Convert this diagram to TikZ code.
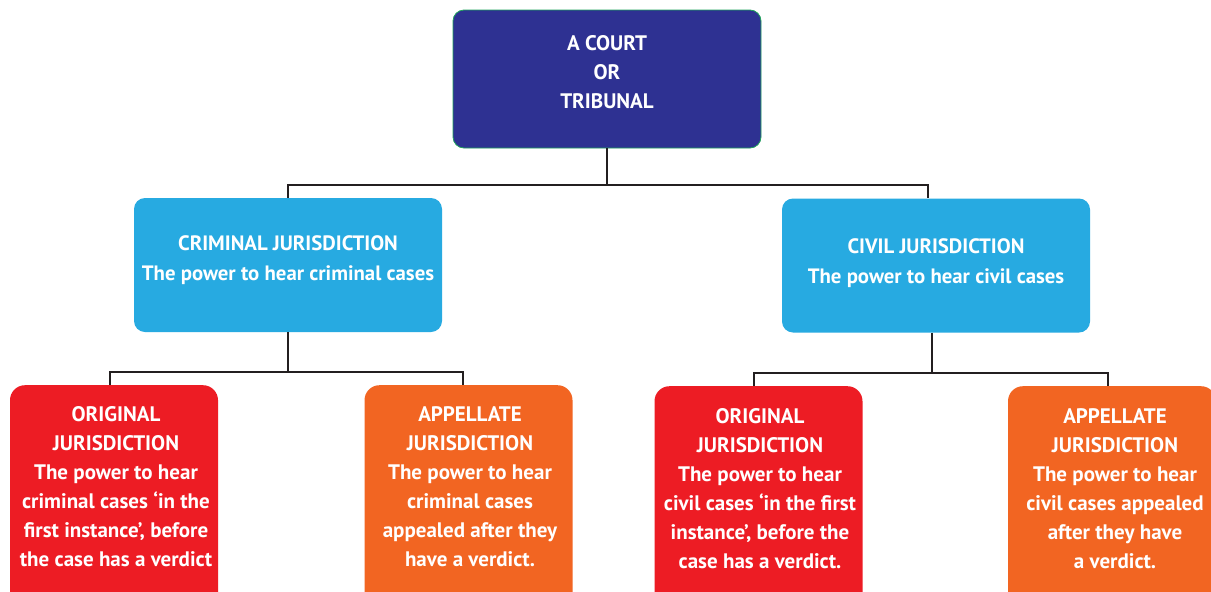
\documentclass[tikz,border=0pt]{standalone}
\usepackage{fontspec}
\setmainfont{PT Sans}
\definecolor{navy}{HTML}{2E3192}
\definecolor{gborder}{HTML}{1FA35B}
\definecolor{lblue}{HTML}{27AAE1}
\definecolor{cred}{HTML}{ED1C24}
\definecolor{corange}{HTML}{F26522}
\definecolor{lineclr}{HTML}{231F20}
\tikzset{
  box/.style={rectangle, inner sep=0pt},
  topbox/.style={box, fill=navy, draw=gborder, line width=0.8pt, rounded corners=11pt, minimum width=308pt, minimum height=138pt},
  midbox/.style={box, fill=lblue, rounded corners=11pt, minimum width=308pt, minimum height=134pt},
  leafbox/.style={box, rounded corners=15pt, minimum width=208pt, minimum height=240pt},
  txt/.style={text=white, font=\bfseries\fontsize{21}{29}\selectfont, align=center, anchor=north, inner sep=0pt},
  conn/.style={draw=lineclr, line width=2pt},
}
\begin{document}
\begin{tikzpicture}[x=1pt,y=-1pt]
\clip (0,0) rectangle (1211,592);
\fill[white] (0,0) rectangle (1211,592);
% boxes
\node[topbox] (top) at (607,79) {};
\node[midbox] (crim) at (288,265) {};
\node[midbox] (civil) at (936,265.5) {};
\node[leafbox, fill=cred, anchor=north] (origA) at (114,385) {};
\node[leafbox, fill=corange, anchor=north] (appA) at (468.5,385) {};
\node[leafbox, fill=cred, anchor=north] (origB) at (758.5,386) {};
\node[leafbox, fill=corange, anchor=north] (appB) at (1112,386) {};
% texts
\node[txt, font=\bfseries\fontsize{21}{28.7}\selectfont] (ttop) at (607,35.5) {A COURT\\OR\\TRIBUNAL};
\node[txt, font=\bfseries\fontsize{20.8}{30}\selectfont] (tcrim) at (288,235.5) {CRIMINAL JURISDICTION\\The power to hear criminal cases};
\node[txt, font=\bfseries\fontsize{20.8}{30}\selectfont] (tcivil) at (936,238.5) {CIVIL JURISDICTION\\The power to hear civil cases};
\node[txt] (torigA) at (116,406) {ORIGINAL\\JURISDICTION\\The power to hear\\criminal cases ‘in the\\first instance’, before\\the case has a verdict};
\node[txt] (tappA) at (470,406) {APPELLATE\\JURISDICTION\\The power to hear\\criminal cases\\appealed after they\\have a verdict.};
\node[txt] (torigB) at (760,408) {ORIGINAL\\JURISDICTION\\The power to hear\\civil cases ‘in the first\\instance’, before the\\case has a verdict.};
\node[txt] (tappB) at (1115,408) {APPELLATE\\JURISDICTION\\The power to hear\\civil cases appealed\\after they have\\a verdict.};
% connectors
\coordinate (j1) at (607,185);
\coordinate (j2) at (288,372);
\coordinate (j3) at (932,373);
\draw[conn] (top.south) -- (j1);
\draw[conn] (crim.north) |- (j1) -| ([xshift=-8pt]civil.north);
\draw[conn] (crim.south) -- (j2);
\draw[conn] ([xshift=-4pt]origA.north) |- (j2) -| ([xshift=-5.5pt]appA.north);
\draw[conn] ([xshift=-4pt]civil.south) -- (j3);
\draw[conn] ([xshift=-4.5pt]origB.north) |- (j3) -| ([xshift=-4pt]appB.north);
\end{tikzpicture}
\end{document}
